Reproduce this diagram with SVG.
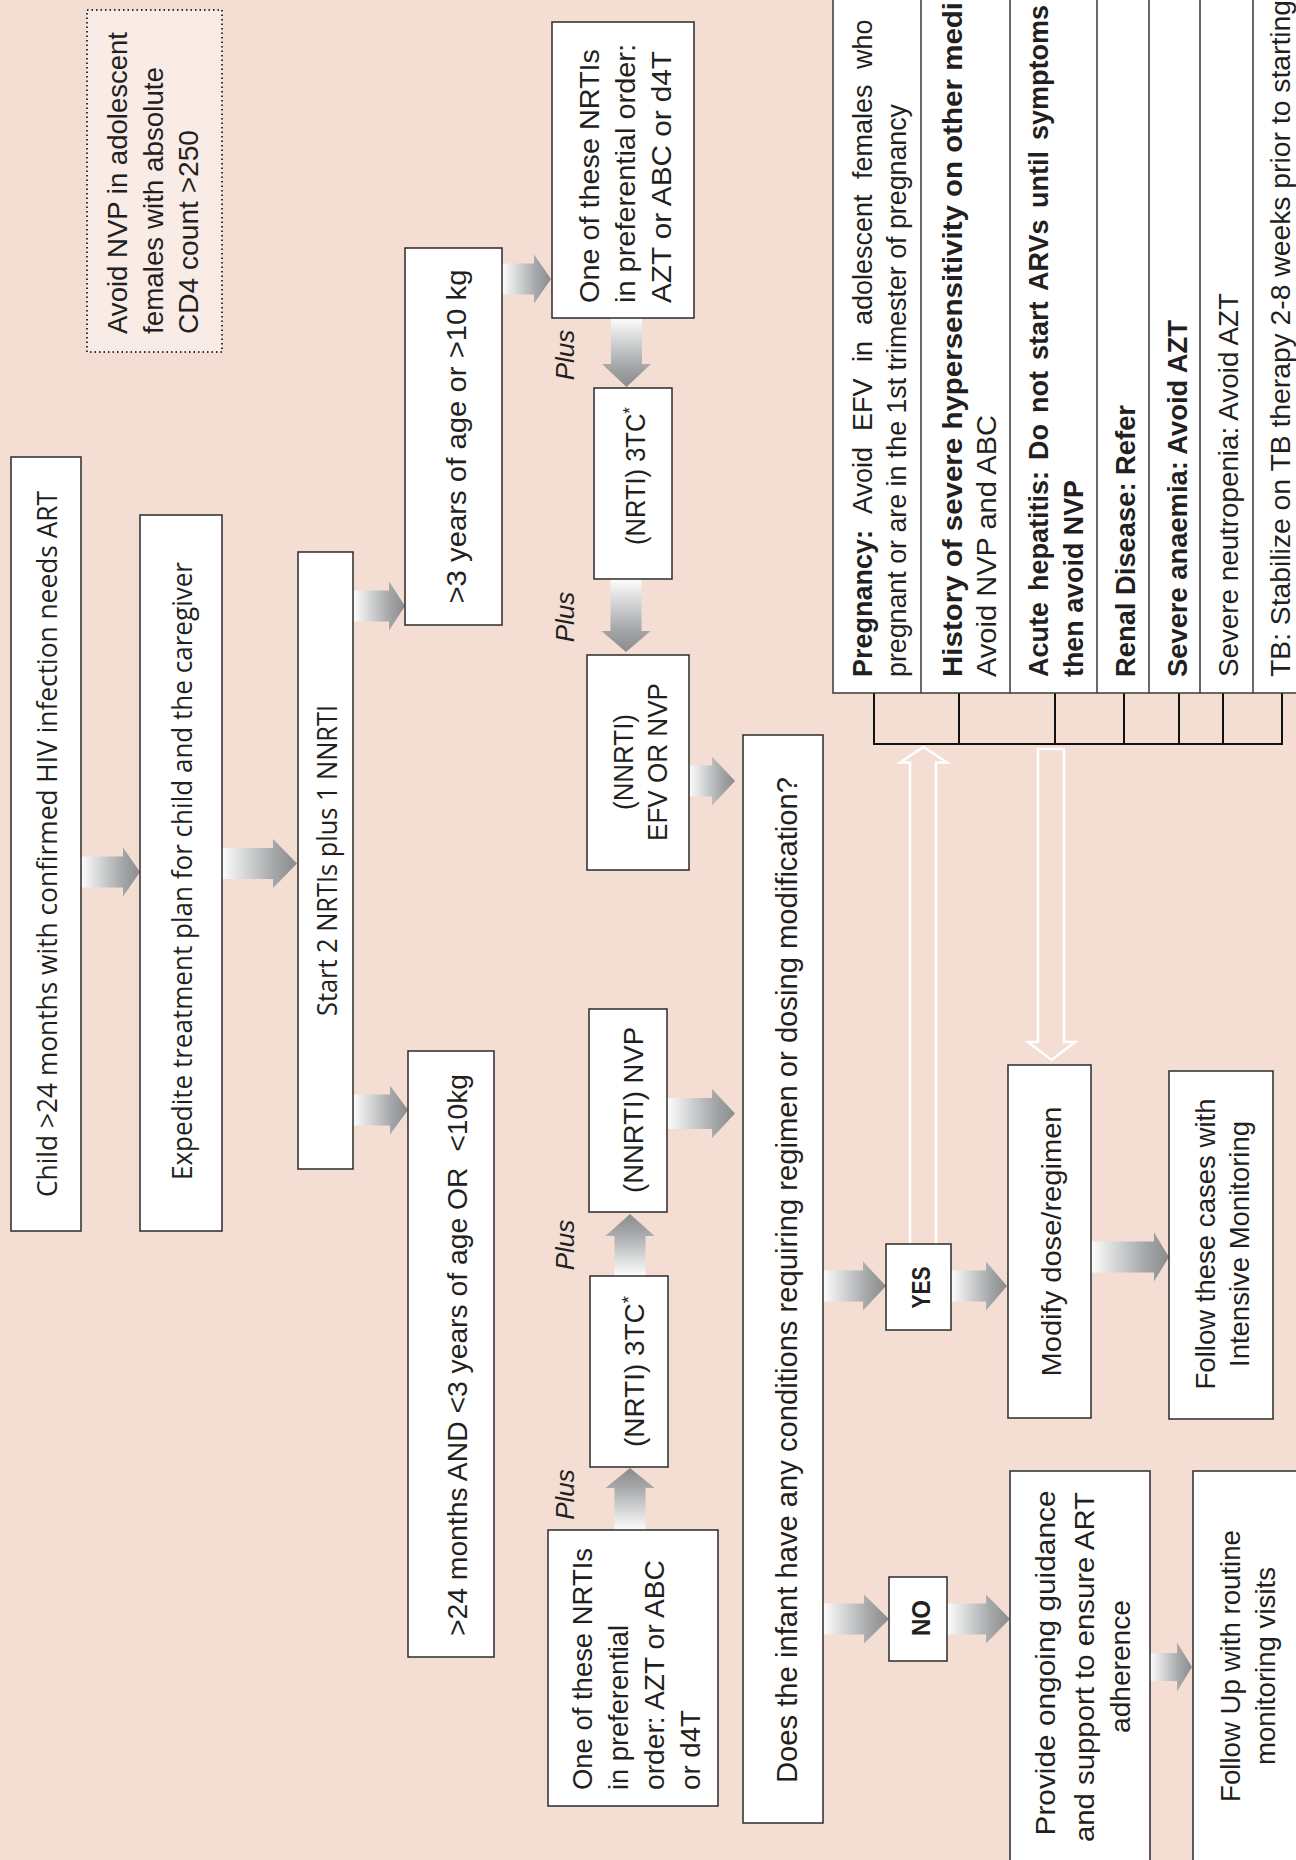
<svg xmlns="http://www.w3.org/2000/svg" width="1296" height="1860" viewBox="0 0 1296 1860">
<style>
.bx{fill:#fff;stroke:#2b2b2b;stroke-width:1.5}
.t{font-family:"Liberation Sans",Arial,sans-serif;font-size:28px;fill:#231f20}
.tc{font-family:"Open Sans","Liberation Sans",sans-serif;font-size:28px;fill:#231f20}
.tt{font-size:27px}
.b{font-weight:bold}
.pl{font-family:"Liberation Sans",Arial,sans-serif;font-size:26px;font-style:italic;fill:#231f20}
.ar{stroke:none}
.ho{fill:none;stroke:#fff;stroke-width:2.5}
.br{fill:none;stroke:#111;stroke-width:2}
.tl{stroke:#3a3a3a;stroke-width:1.5}
</style>
<defs>
<linearGradient id="gR" x1="0" y1="0" x2="1" y2="0"><stop offset="0" stop-color="#fdfdfd"/><stop offset="0.7" stop-color="#a4a6a8"/><stop offset="1" stop-color="#898b8d"/></linearGradient>
<linearGradient id="gD" x1="0" y1="0" x2="0" y2="1"><stop offset="0" stop-color="#fdfdfd"/><stop offset="0.7" stop-color="#a4a6a8"/><stop offset="1" stop-color="#898b8d"/></linearGradient>
<linearGradient id="gU" x1="0" y1="1" x2="0" y2="0"><stop offset="0" stop-color="#fdfdfd"/><stop offset="0.7" stop-color="#a4a6a8"/><stop offset="1" stop-color="#898b8d"/></linearGradient>
</defs>
<rect x="0" y="0" width="1296" height="1860" fill="#f4ddd3"/>

<g id="connectors">
<path class="ar" fill="url(#gR)" d="M81 856.5H123V847.5L140 872L123 896.5V887.5H81Z"/>
<path class="ar" fill="url(#gR)" d="M222 848H273V839L297 863.5L273 888V879H222Z"/>
<path class="ar" fill="url(#gR)" d="M353 590.5H389V581.5L405 606L389 630.5V621.5H353Z"/>
<path class="ar" fill="url(#gR)" d="M353 1094.5H390V1085.5L408 1110L390 1134.5V1125.5H353Z"/>
<path class="ar" fill="url(#gR)" d="M502 263.5H534V254.5L551 279L534 303.5V294.5H502Z"/>
<path class="ar" fill="url(#gR)" d="M689 765.5H712V756.5L735 781L712 805.5V796.5H689Z"/>
<path class="ar" fill="url(#gR)" d="M667 1098H712V1089L735 1113.5L712 1138V1129H667Z"/>
<path class="ar" fill="url(#gR)" d="M823 1270.5H863V1261.5L886 1286L863 1310.5V1301.5H823Z"/>
<path class="ar" fill="url(#gR)" d="M951 1270.5H986V1261.5L1007 1286L986 1310.5V1301.5H951Z"/>
<path class="ar" fill="url(#gR)" d="M1091 1241.5H1154V1232.5L1169 1257L1154 1281.5V1272.5H1091Z"/>
<path class="ar" fill="url(#gR)" d="M823 1603.5H864V1594.5L889 1619L864 1643.5V1634.5H823Z"/>
<path class="ar" fill="url(#gR)" d="M947 1603.5H986V1594.5L1010 1619L986 1643.5V1634.5H947Z"/>
<path class="ar" fill="url(#gR)" d="M1150 1653H1177V1642.5L1192 1667L1177 1691.5V1681H1150Z"/>
<path class="ar" fill="url(#gD)" d="M611 318V364H602L626.5 387L651 364H642V318Z"/>
<path class="ar" fill="url(#gD)" d="M610.5 579V631H601.5L626 652L650.5 631H641.5V579Z"/>
<path class="ar" fill="url(#gU)" d="M614.5 1530V1488H605.5L630 1468L654.5 1488H645.5V1530Z"/>
<path class="ar" fill="url(#gU)" d="M614.5 1276V1236H605.5L630 1214L654.5 1236H645.5V1276Z"/>
<path class="ho" d="M910 1244V762.5H900L923.5 747L947 762.5H936V1244"/>
<path class="ho" d="M1038 749H1064V1042H1075L1051.5 1060L1028 1042H1038Z"/>
<path class="br" d="M874 693V744H1282V693M959 693V744M1055 693V744M1124 693V744M1179 693V744M1223 693V744"/>
</g>

<g id="n-note">
<rect x="87" y="10" width="135" height="342" fill="#f9ebe6" stroke="#333" stroke-width="2" stroke-dasharray="1.5 3"/>
<text class="t" transform="translate(127,334) rotate(-90)" textLength="302" lengthAdjust="spacingAndGlyphs">Avoid NVP in adolescent</text>
<text class="t" transform="translate(163,334) rotate(-90)" textLength="267" lengthAdjust="spacingAndGlyphs">females with absolute</text>
<text class="t" transform="translate(198,334) rotate(-90)" textLength="204" lengthAdjust="spacingAndGlyphs">CD4 count &gt;250</text>
</g>

<g id="n-child">
<rect class="bx" x="11" y="457" width="70" height="774"/>
<text class="tc" transform="translate(57,844) rotate(-90)" text-anchor="middle" textLength="706" lengthAdjust="spacingAndGlyphs">Child &gt;24 months with confirmed HIV infection needs ART</text>
</g>
<g id="n-expedite">
<rect class="bx" x="140" y="515" width="82" height="716"/>
<text class="tc" transform="translate(192,871) rotate(-90)" text-anchor="middle" textLength="618" lengthAdjust="spacingAndGlyphs">Expedite treatment plan for child and the caregiver</text>
</g>
<g id="n-start">
<rect class="bx" x="298" y="552" width="55" height="617"/>
<text class="tc" transform="translate(337,860.5) rotate(-90)" text-anchor="middle" textLength="311" lengthAdjust="spacingAndGlyphs">Start 2 NRTIs plus 1 NNRTI</text>
</g>
<g id="n-over3">
<rect class="bx" x="405" y="248" width="97" height="377"/>
<text class="t" transform="translate(466,436.5) rotate(-90)" text-anchor="middle" textLength="334" lengthAdjust="spacingAndGlyphs">&gt;3 years of age or &gt;10 kg</text>
</g>
<g id="n-under3">
<rect class="bx" x="408" y="1051" width="86" height="606"/>
<text class="t" xml:space="preserve" transform="translate(467,1355) rotate(-90)" text-anchor="middle" textLength="562" lengthAdjust="spacingAndGlyphs">&gt;24 months AND &lt;3 years of age OR  &lt;10kg</text>
</g>
<g id="n-nrti-upper">
<rect class="bx" x="552" y="22" width="142" height="296"/>
<text class="t" transform="translate(599,303) rotate(-90)" textLength="254" lengthAdjust="spacingAndGlyphs">One of these NRTIs</text>
<text class="t" transform="translate(635,303) rotate(-90)" textLength="259" lengthAdjust="spacingAndGlyphs">in preferential order:</text>
<text class="t" transform="translate(671,303) rotate(-90)" textLength="252" lengthAdjust="spacingAndGlyphs">AZT or ABC or d4T</text>
</g>
<g id="n-3tc-upper">
<rect class="bx" x="594" y="388" width="78" height="191"/>
<text class="t tt" transform="translate(645,545) rotate(-90)" textLength="138" lengthAdjust="spacingAndGlyphs">(NRTI) 3TC<tspan font-size="18" dy="-9">*</tspan></text>
</g>
<g id="n-nnrti-upper">
<rect class="bx" x="587" y="655" width="102" height="215"/>
<text class="t tt" transform="translate(633,762) rotate(-90)" text-anchor="middle" textLength="96" lengthAdjust="spacingAndGlyphs">(NNRTI)</text>
<text class="t tt" transform="translate(667,762) rotate(-90)" text-anchor="middle" textLength="158" lengthAdjust="spacingAndGlyphs">EFV OR NVP</text>
</g>
<g id="n-nvp-lower">
<rect class="bx" x="589" y="1009" width="78" height="203"/>
<text class="t tt" transform="translate(643,1110) rotate(-90)" text-anchor="middle" textLength="166" lengthAdjust="spacingAndGlyphs">(NNRTI) NVP</text>
</g>
<g id="n-3tc-lower">
<rect class="bx" x="590" y="1276" width="78" height="191"/>
<text class="t tt" transform="translate(644,1447) rotate(-90)" textLength="151" lengthAdjust="spacingAndGlyphs">(NRTI) 3TC<tspan font-size="18" dy="-9">*</tspan></text>
</g>
<g id="n-nrti-lower">
<rect class="bx" x="548" y="1530" width="170" height="276"/>
<text class="t" transform="translate(592,1790) rotate(-90)" textLength="242" lengthAdjust="spacingAndGlyphs">One of these NRTIs</text>
<text class="t" transform="translate(628,1790) rotate(-90)" textLength="165" lengthAdjust="spacingAndGlyphs">in preferential</text>
<text class="t" transform="translate(664,1790) rotate(-90)" textLength="230" lengthAdjust="spacingAndGlyphs">order: AZT or ABC</text>
<text class="t" transform="translate(700,1790) rotate(-90)" textLength="80" lengthAdjust="spacingAndGlyphs">or d4T</text>
</g>
<g id="plus-labels">
<text class="pl" transform="translate(574,355) rotate(-90)" text-anchor="middle">Plus</text>
<text class="pl" transform="translate(574,617) rotate(-90)" text-anchor="middle">Plus</text>
<text class="pl" transform="translate(574,1245) rotate(-90)" text-anchor="middle">Plus</text>
<text class="pl" transform="translate(574,1494.5) rotate(-90)" text-anchor="middle">Plus</text>
</g>
<g id="n-question">
<rect class="bx" x="743" y="735" width="80" height="1088"/>
<text class="t" style="font-size:29px" transform="translate(797,1280) rotate(-90)" text-anchor="middle" textLength="1006" lengthAdjust="spacingAndGlyphs">Does the infant have any conditions requiring regimen or dosing modification?</text>
</g>
<g id="n-yes">
<rect class="bx" x="886" y="1244" width="65" height="86"/>
<text class="t b" style="font-size:26px" transform="translate(930,1287.5) rotate(-90)" text-anchor="middle" textLength="42" lengthAdjust="spacingAndGlyphs">YES</text>
</g>
<g id="n-no">
<rect class="bx" x="889" y="1577" width="58" height="84"/>
<text class="t b" style="font-size:26px" transform="translate(930,1618) rotate(-90)" text-anchor="middle" textLength="36" lengthAdjust="spacingAndGlyphs">NO</text>
</g>
<g id="n-modify">
<rect class="bx" x="1008" y="1065" width="83" height="353"/>
<text class="t" transform="translate(1061,1241.5) rotate(-90)" text-anchor="middle" textLength="270" lengthAdjust="spacingAndGlyphs">Modify dose/regimen</text>
</g>
<g id="n-intensive">
<rect class="bx" x="1169" y="1071" width="104" height="348"/>
<text class="t" transform="translate(1215,1244) rotate(-90)" text-anchor="middle" textLength="291" lengthAdjust="spacingAndGlyphs">Follow these cases with</text>
<text class="t" transform="translate(1249,1244) rotate(-90)" text-anchor="middle" textLength="246" lengthAdjust="spacingAndGlyphs">Intensive Monitoring</text>
</g>
<g id="n-guidance">
<rect class="bx" x="1010" y="1471" width="140" height="420"/>
<text class="t" transform="translate(1055,1663) rotate(-90)" text-anchor="middle" textLength="345" lengthAdjust="spacingAndGlyphs">Provide ongoing guidance</text>
<text class="t" transform="translate(1094,1667) rotate(-90)" text-anchor="middle" textLength="350" lengthAdjust="spacingAndGlyphs">and support to ensure ART</text>
<text class="t" transform="translate(1130,1666.5) rotate(-90)" text-anchor="middle" textLength="133" lengthAdjust="spacingAndGlyphs">adherence</text>
</g>
<g id="n-routine">
<rect class="bx" x="1193" y="1471" width="130" height="420"/>
<text class="t" transform="translate(1240,1666) rotate(-90)" text-anchor="middle" textLength="272" lengthAdjust="spacingAndGlyphs">Follow Up with routine</text>
<text class="t" transform="translate(1275,1666) rotate(-90)" text-anchor="middle" textLength="198" lengthAdjust="spacingAndGlyphs">monitoring visits</text>
</g>

<g id="n-conditions-table">
<rect x="833" y="-5" width="480" height="698" fill="#fff" stroke="#3a3a3a" stroke-width="1.5"/>
<path class="tl" d="M921 -5V693M1010 -5V693M1097 -5V693M1149 -5V693M1200 -5V693M1253 -5V693"/>
<text class="t tt" transform="translate(872,677) rotate(-90)"><tspan class="b" x="0">Pregnancy:</tspan><tspan x="163">Avoid</tspan><tspan x="246">EFV</tspan><tspan x="315">in</tspan><tspan x="352">adolescent</tspan><tspan x="498">females</tspan><tspan x="608">who</tspan></text>
<text class="t tt" transform="translate(906,677) rotate(-90)" textLength="573" lengthAdjust="spacingAndGlyphs">pregnant or are in the 1st trimester of pregnancy</text>
<text class="t tt b" transform="translate(962,677) rotate(-90)" textLength="675" lengthAdjust="spacingAndGlyphs">History of severe hypersensitivity on other medi</text>
<text class="t tt" transform="translate(996,677) rotate(-90)" textLength="262" lengthAdjust="spacingAndGlyphs">Avoid NVP and ABC</text>
<text class="t tt b" transform="translate(1048,677) rotate(-90)"><tspan x="0">Acute</tspan><tspan x="86">hepatitis:</tspan><tspan x="217">Do</tspan><tspan x="264">not</tspan><tspan x="317">start</tspan><tspan x="386">ARVs</tspan><tspan x="469">until</tspan><tspan x="537">symptoms</tspan></text>
<text class="t tt b" transform="translate(1083,677) rotate(-90)" textLength="197" lengthAdjust="spacingAndGlyphs">then avoid NVP</text>
<text class="t tt b" transform="translate(1135,677) rotate(-90)" textLength="272" lengthAdjust="spacingAndGlyphs">Renal Disease: Refer</text>
<text class="t tt b" transform="translate(1187,677) rotate(-90)" textLength="357" lengthAdjust="spacingAndGlyphs">Severe anaemia: Avoid AZT</text>
<text class="t tt" transform="translate(1238,677) rotate(-90)" textLength="384" lengthAdjust="spacingAndGlyphs">Severe neutropenia: Avoid AZT</text>
<text class="t tt" transform="translate(1290,677) rotate(-90)" textLength="677" lengthAdjust="spacingAndGlyphs">TB: Stabilize on TB therapy 2-8 weeks prior to starting</text>
</g>
</svg>
